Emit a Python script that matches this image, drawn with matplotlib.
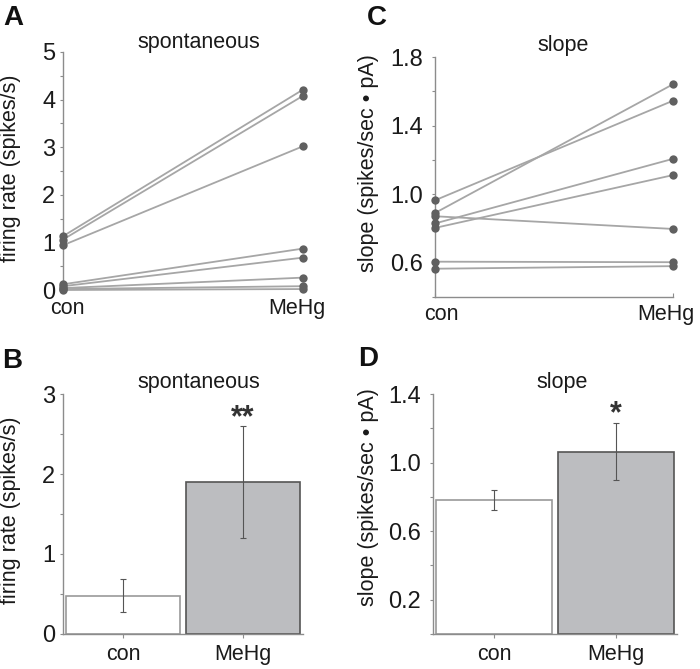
import numpy as np
import matplotlib
matplotlib.use('Agg')
import matplotlib.pyplot as plt
from matplotlib.ticker import MultipleLocator

plt.rcParams['font.family'] = ['Liberation Sans', 'DejaVu Sans']

# data
groups = ['con', 'MeHg']

# A : spontaneous firing rate, paired cells
spont_con = [1.13, 1.06, 0.94, 0.12, 0.08, 0.04, 0.02, 0.0]
spont_mehg = [4.21, 4.08, 3.02, 0.87, 0.68, 0.26, 0.08, 0.02]

# C : slope, paired cells
slope_con = [0.964, 0.89, 0.871, 0.829, 0.803, 0.606, 0.565]
slope_mehg = [1.545, 1.641, 0.797, 1.206, 1.111, 0.603, 0.58]

# B : mean spontaneous rate +/- error
spont_mean = [0.48, 1.90]
spont_err = [0.21, 0.70]

# D : mean slope +/- error
slope_mean = [0.783, 1.063]
slope_err = [0.058, 0.165]

W, H = 700, 669
fig = plt.figure(figsize=(W / 100, H / 100), dpi=100)

line_col = '#a6a6a6'
dot_col = '#606060'
spine_col = '#8c8c8c'
txt_col = '#1a1a1a'
fs = 15.5
tfs = 17


def px_axes(l, t, r, b):
    return fig.add_axes([l / W, 1 - b / H, (r - l) / W, (b - t) / H])


def style(ax, ypad):
    for s in ['top', 'right']:
        ax.spines[s].set_visible(False)
    for s in ['left', 'bottom']:
        ax.spines[s].set_color(spine_col)
        ax.spines[s].set_linewidth(1.0)
    ax.tick_params(axis='y', which='both', direction='out', length=2.5,
                   width=0.8, color=spine_col, labelsize=tfs,
                   labelcolor=txt_col, pad=ypad)


# ---- A ----
axA = px_axes(63, 52, 303, 290)
style(axA, 3)
axA.spines['bottom'].set_visible(False)
for c, m in zip(spont_con, spont_mehg):
    axA.plot([0, 1], [c, m], color=line_col, lw=1.3, zorder=2, clip_on=False)
    axA.plot([0, 1], [c, m], 'o', color=dot_col, ms=6, mew=0, zorder=3,
             clip_on=False)
axA.set_xlim(0, 1)
axA.set_ylim(0, 5)
axA.yaxis.set_major_locator(MultipleLocator(1))
axA.yaxis.set_minor_locator(MultipleLocator(0.5))
axA.set_xticks([0.02, 0.975])
axA.set_xticklabels(groups)
axA.tick_params(axis='x', length=0, labelsize=fs, labelcolor=txt_col, pad=6)
axA.set_ylabel('firing rate (spikes/s)', fontsize=fs, color=txt_col,
               va='center', ha='center')
axA.yaxis.set_label_coords(-0.217, 0.513)
axA.text(0.567, 1.038, 'spontaneous', transform=axA.transAxes, fontsize=fs,
         ha='center', va='center', color=txt_col)

# ---- C ----
axC = px_axes(435, 57, 673, 297)
style(axC, 6)
for c, m in zip(slope_con, slope_mehg):
    axC.plot([0, 1], [c, m], color=line_col, lw=1.3, zorder=2, clip_on=False)
    axC.plot([0, 1], [c, m], 'o', color=dot_col, ms=6, mew=0, zorder=3,
             clip_on=False)
axC.set_xlim(0, 1)
axC.set_ylim(0.4, 1.8)
axC.set_yticks([0.6, 1.0, 1.4, 1.8])
axC.set_yticklabels(['0.6', '1.0', '1.4', '1.8'])
axC.yaxis.set_minor_locator(MultipleLocator(0.2))
axC.set_xticks([0, 1])
axC.set_xticklabels(['', ''])
axC.tick_params(axis='x', direction='in', length=3, width=0.8, color=spine_col,
                labelsize=fs, labelcolor=txt_col, pad=2)
# group labels sit a little inside the tick positions
axC.set_xticks([0.025, 0.972], minor=True)
axC.set_xticklabels(groups, minor=True)
axC.tick_params(axis='x', which='minor', length=0, labelsize=fs,
                labelcolor=txt_col, pad=5)
axC.set_ylabel('slope (spikes/sec \u2022 pA)', fontsize=fs, color=txt_col,
               va='center', ha='center')
axC.yaxis.set_label_coords(-0.2815, 0.558)
axC.text(0.538, 1.05, 'slope', transform=axC.transAxes, fontsize=fs,
         ha='center', va='center', color=txt_col)

# ---- B ----
xpos = [0.5, 1.5]
bar_fill = ['white', '#bcbdc0']
bar_edge = ['#9a9a9a', '#555555']


def bars(ax, means, errs):
    for x, m, e, fc, ec in zip(xpos, means, errs, bar_fill, bar_edge):
        ax.bar(x, m, width=0.95, color=fc, edgecolor=ec, lw=1.2, zorder=2)
        ax.errorbar(x, m, yerr=e, fmt='none', ecolor='#555555', elinewidth=0.8,
                    capsize=2.5, capthick=0.8, zorder=3)
    ax.set_xlim(0, 2)
    ax.set_xticks(xpos)
    ax.set_xticklabels(groups)
    ax.tick_params(axis='x', direction='out', length=3, width=0.8,
                   color=spine_col, labelsize=fs, labelcolor=txt_col, pad=4)


axB = px_axes(63, 394, 303, 634)
style(axB, 3)
bars(axB, spont_mean, spont_err)
axB.set_ylim(0, 3)
axB.yaxis.set_major_locator(MultipleLocator(1))
axB.yaxis.set_minor_locator(MultipleLocator(0.5))
axB.set_ylabel('firing rate (spikes/s)', fontsize=fs, color=txt_col,
               va='center', ha='center')
axB.yaxis.set_label_coords(-0.217, 0.517)
axB.text(0.567, 1.05, 'spontaneous', transform=axB.transAxes, fontsize=fs,
         ha='center', va='center', color=txt_col)
axB.annotate('**', (xpos[1], spont_mean[1] + spont_err[1]), xytext=(0, -5),
             textcoords='offset points', ha='center', va='bottom',
             fontsize=22, fontweight='bold', color='#333333')

# ---- D ----
axD = px_axes(433, 394, 677, 634)
style(axD, 6)
bars(axD, slope_mean, slope_err)
axD.set_ylim(0, 1.4)
axD.set_yticks([0.2, 0.6, 1.0, 1.4])
axD.set_yticklabels(['0.2', '0.6', '1.0', '1.4'])
axD.yaxis.set_minor_locator(MultipleLocator(0.2))
axD.set_ylabel('slope (spikes/sec \u2022 pA)', fontsize=fs, color=txt_col,
               va='center', ha='center')
axD.yaxis.set_label_coords(-0.266, 0.571)
axD.text(0.529, 1.046, 'slope', transform=axD.transAxes, fontsize=fs,
         ha='center', va='center', color=txt_col)
axD.annotate('*', (xpos[1], slope_mean[1] + slope_err[1]), xytext=(0, -4),
             textcoords='offset points', ha='center', va='bottom',
             fontsize=22, fontweight='bold', color='#333333')

# panel letters
for letter, (x, y) in zip('ACBD', [(13, 18), (377, 18), (12, 361), (368, 359)]):
    fig.text(x / W, 1 - y / H, letter, fontsize=20, fontweight='bold',
             ha='center', va='center', color='#111111')

fig.savefig('out.png', dpi=100)
